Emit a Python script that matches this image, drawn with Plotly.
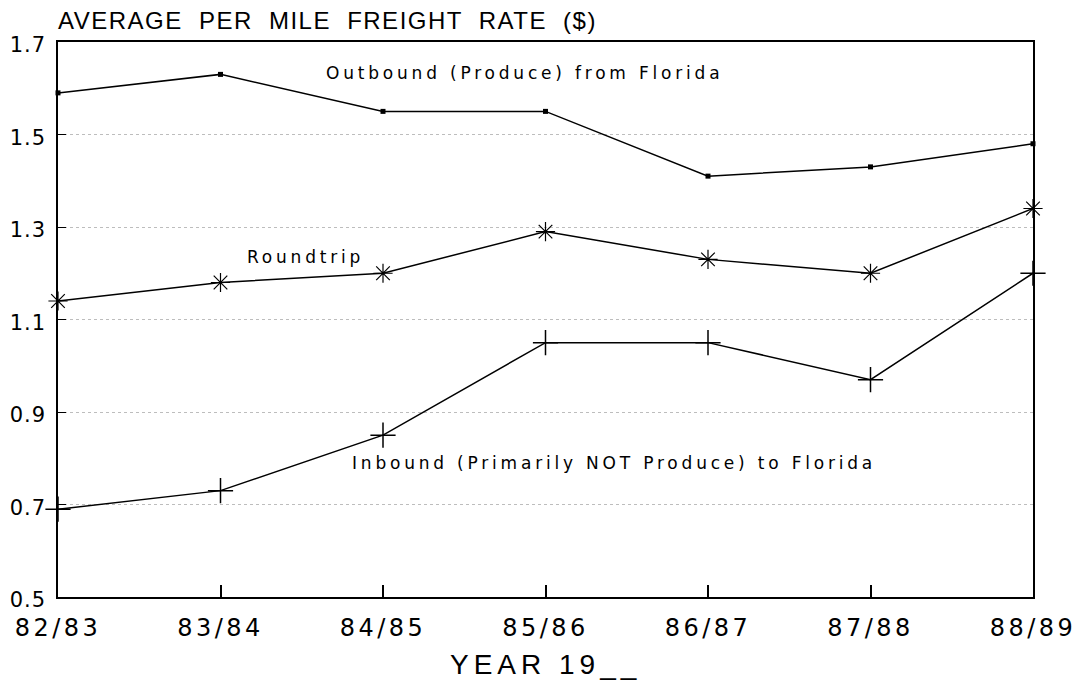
import plotly.graph_objects as go

years = ["82/83", "83/84", "84/85", "85/86", "86/87", "87/88", "88/89"]
outbound = [1.59, 1.63, 1.55, 1.55, 1.41, 1.43, 1.48]
roundtrip = [1.14, 1.18, 1.20, 1.29, 1.23, 1.20, 1.34]
inbound = [0.69, 0.73, 0.85, 1.05, 1.05, 0.97, 1.20]
y_ticks = [0.5, 0.7, 0.9, 1.1, 1.3, 1.5, 1.7]

xs = list(range(len(years)))
HELV = "Liberation Sans, Arial, sans-serif"
WIDE = "DejaVu Sans, Verdana, sans-serif"


def spaced(text, px, word=0):
    return f'<span style="letter-spacing:{px}px;word-spacing:{word}px">{text}</span>'


fig = go.Figure()
fig.add_trace(go.Scatter(x=xs, y=outbound, mode="lines+markers", cliponaxis=False,
                         line=dict(color="black", width=1.5),
                         marker=dict(symbol="square", size=5, color="black")))
fig.add_trace(go.Scatter(x=xs, y=roundtrip, mode="lines+markers", cliponaxis=False,
                         line=dict(color="black", width=1.5),
                         marker=dict(symbol="asterisk-open", size=16,
                                     line=dict(color="black", width=1.2))))
fig.add_trace(go.Scatter(x=xs, y=inbound, mode="lines+markers", cliponaxis=False,
                         line=dict(color="black", width=1.5),
                         marker=dict(symbol="cross-thin-open", size=18,
                                     line=dict(color="black", width=1.5))))

fig.update_layout(
    width=1075, height=672,
    margin=dict(l=50, r=50, t=34, b=83),
    paper_bgcolor="white", plot_bgcolor="white",
    showlegend=False,
    font=dict(family=HELV, color="black"),
    xaxis=dict(range=[0, 6], tickvals=xs, ticktext=[spaced(t, 3.5) for t in years],
               ticks="inside", ticklen=12, tickwidth=1.5, tickcolor="black",
               showgrid=False, showline=True, linecolor="black", linewidth=1.5,
               mirror=True, zeroline=False, tickfont=dict(size=24, family=WIDE),
               ticklabelstandoff=8, automargin=False),
    yaxis=dict(range=[0.5, 1.7], tickvals=y_ticks,
               ticktext=[spaced(f"{v:.1f}", 1) for v in y_ticks],
               ticks="inside", ticklen=8, tickwidth=1.2, tickcolor="black",
               showgrid=True, gridcolor="#bdbdbd", griddash="dot", gridwidth=1,
               showline=True, linecolor="black", linewidth=1.5, mirror=True,
               zeroline=False, tickfont=dict(size=21, family=WIDE),
               ticklabelstandoff=6, ticklabelshift=3, automargin=False),
    annotations=[
        dict(text=spaced("AVERAGE PER MILE FREIGHT RATE ($)", 1.5, 8), xref="paper", yref="paper",
             x=0.0, y=1.0, xanchor="left", yanchor="middle", xshift=-2, yshift=22,
             showarrow=False, font=dict(size=24, family=HELV)),
        dict(text=spaced("YEAR 19__", 5), xref="paper", yref="paper", x=0.5, y=0,
             xanchor="center", yanchor="middle", yshift=-67, showarrow=False,
             font=dict(size=28, family=HELV)),
        dict(text=spaced("Outbound (Produce) from Florida", 3.8), x=2.87, y=1.632,
             showarrow=False, font=dict(size=17, family=WIDE)),
        dict(text=spaced("Roundtrip", 3.8), x=1.52, y=1.235,
             showarrow=False, font=dict(size=17, family=WIDE)),
        dict(text=spaced("Inbound (Primarily NOT Produce) to Florida", 3.8), x=3.42, y=0.79,
             showarrow=False, font=dict(size=17, family=WIDE)),
    ],
)

fig.write_html("out.html")
